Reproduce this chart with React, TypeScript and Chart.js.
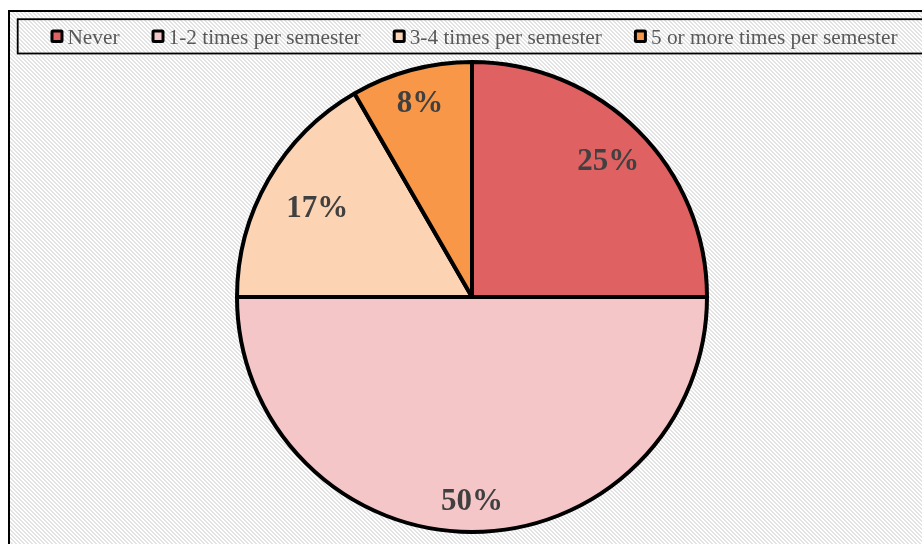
import React, { useEffect, useRef } from "react";
import { Chart, registerables } from "chart.js";

Chart.register(...registerables);

const categories = [
  "Never",
  "1-2 times per semester",
  "3-4 times per semester",
  "5 or more times per semester",
];
const counts = [3, 6, 2, 1];
const percentLabels = ["25%", "50%", "17%", "8%"];
const sliceColors = ["#E06161", "#F4C6C7", "#FCD4B4", "#F79747"];
// radial placement of each data label (fraction of the radius), Excel "best fit" look
const labelRadiusFraction = [0.82, 0.868, 0.76, 0.855];

function makePattern(ctx: CanvasRenderingContext2D) {
  const tile = document.createElement("canvas");
  tile.width = 8;
  tile.height = 8;
  const t = tile.getContext("2d")!;
  t.fillStyle = "#ffffff";
  t.fillRect(0, 0, 8, 8);
  t.fillStyle = "#e3e3e3";
  for (let y = 0; y < 8; y++) {
    for (let x = 0; x < 8; x++) {
      if ((((x - y) % 4) + 4) % 4 < 2) t.fillRect(x, y, 1, 1);
    }
  }
  return ctx.createPattern(tile, "repeat")!;
}

const backgroundPlugin = {
  id: "bgPattern",
  beforeDraw(chart: any) {
    const ctx: CanvasRenderingContext2D = chart.ctx;
    ctx.save();
    ctx.fillStyle = "#ffffff";
    ctx.fillRect(0, 0, chart.width, chart.height);
    ctx.fillStyle = makePattern(ctx);
    ctx.fillRect(9, 11, chart.width, chart.height);
    ctx.strokeStyle = "#000000";
    ctx.lineWidth = 2;
    ctx.strokeRect(9, 11, chart.width + 20, chart.height + 20);
    ctx.lineWidth = 1.8;
    ctx.strokeRect(17.7, 19.2, 930, 34.3);
    ctx.restore();
  },
};

const legendPlugin = {
  id: "customLegend",
  afterDraw(chart: any) {
    const ctx: CanvasRenderingContext2D = chart.ctx;
    ctx.save();
    ctx.font = '21.3px "Liberation Serif"';
    const boxW = 13;
    const boxGap = 4;
    const itemGap = 32;
    const widths = categories.map((c) => ctx.measureText(c).width);
    const total =
      widths.reduce((a, w) => a + boxW + boxGap + w, 0) +
      itemGap * (categories.length - 1);
    let x = 474 - total / 2;
    const baseline = 43.5;
    categories.forEach((c, i) => {
      const by = 29.5;
      ctx.fillStyle = "#000000";
      ctx.beginPath();
      (ctx as any).roundRect(x, by, boxW, 13.5, 2.5);
      ctx.fill();
      ctx.fillStyle = sliceColors[i];
      ctx.fillRect(x + 3, by + 3, boxW - 6, 13.5 - 6);
      ctx.fillStyle = "#595959";
      ctx.textBaseline = "alphabetic";
      ctx.textAlign = "left";
      ctx.fillText(c, x + boxW + boxGap, baseline);
      x += boxW + boxGap + widths[i] + itemGap;
    });
    ctx.restore();
  },
};

const labelPlugin = {
  id: "pieLabels",
  afterDatasetsDraw(chart: any) {
    const ctx: CanvasRenderingContext2D = chart.ctx;
    const meta = chart.getDatasetMeta(0);
    ctx.save();
    ctx.font = 'bold 31px "Liberation Serif"';
    ctx.fillStyle = "#404040";
    ctx.textAlign = "center";
    ctx.textBaseline = "middle";
    meta.data.forEach((arc: any, i: number) => {
      const p = arc.getProps(["x", "y", "startAngle", "endAngle", "outerRadius"], true);
      const mid = (p.startAngle + p.endAngle) / 2;
      const r = p.outerRadius * labelRadiusFraction[i];
      ctx.fillText(percentLabels[i], p.x + Math.cos(mid) * r, p.y + Math.sin(mid) * r + 1);
    });
    ctx.restore();
  },
};

export default function App() {
  const canvasRef = useRef<HTMLCanvasElement | null>(null);

  useEffect(() => {
    if (!canvasRef.current) return;
    const chart = new Chart(canvasRef.current, {
      type: "pie",
      data: {
        labels: categories,
        datasets: [
          {
            data: counts,
            backgroundColor: sliceColors,
            borderColor: "#000000",
            borderWidth: 4,
            hoverOffset: 0,
          },
        ],
      },
      options: {
        responsive: false,
        animation: false,
        devicePixelRatio: 1,
        radius: 235,
        layout: { padding: { top: 60, bottom: 10, left: 22, right: 0 } },
        plugins: {
          legend: { display: false },
          tooltip: { enabled: false },
        },
      } as any,
      plugins: [backgroundPlugin, legendPlugin, labelPlugin],
    });
    return () => chart.destroy();
  }, []);

  return (
    <div style={{ position: "fixed", left: 0, top: 0, width: 922, height: 544, overflow: "hidden" }}>
      <canvas ref={canvasRef} width={922} height={544} style={{ display: "block" }} />
    </div>
  );
}
